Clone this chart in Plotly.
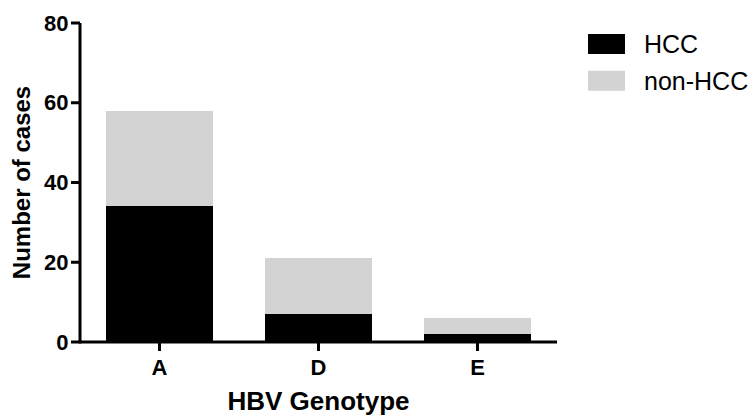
import plotly.graph_objects as go

# Case counts by HBV genotype
genotypes = ["A", "D", "E"]
hcc = [34, 7, 2]
non_hcc = [24, 14, 4]
y_ticks = [0, 20, 40, 60, 80]
y_range = [0, 80]

series_names = ["HCC", "non-HCC"]
series_colors = ["#000000", "#d3d3d3"]

FONT = "Arial, 'Liberation Sans', sans-serif"
AXIS_W = 3      # axis line thickness, px
TICK_LEN = 9    # tick length, px

fig = go.Figure()
for name, vals, col in zip(series_names, [hcc, non_hcc], series_colors):
    fig.add_trace(go.Bar(
        x=genotypes, y=vals, name=name,
        marker=dict(color=col, line=dict(width=0)),
        showlegend=False,
    ))

shapes = []
half = AXIS_W / 2

# Axis lines as solid bars hugging the left and bottom edges of the plot area
shapes.append(dict(type="rect", xref="paper", xsizemode="pixel", xanchor=0,
                   x0=-half, x1=half, yref="paper", y0=0, y1=1,
                   fillcolor="black", line=dict(width=0)))
shapes.append(dict(type="rect", yref="paper", ysizemode="pixel", yanchor=0,
                   y0=-half, y1=half, xref="paper", x0=0, x1=1,
                   fillcolor="black", line=dict(width=0)))
shapes.append(dict(type="rect", xref="paper", xsizemode="pixel", xanchor=0,
                   x0=-half, x1=half, yref="paper", ysizemode="pixel", yanchor=0,
                   y0=-half, y1=half, fillcolor="black", line=dict(width=0)))

# Category ticks below the x axis
for g in genotypes:
    shapes.append(dict(type="rect", xref="x", xsizemode="pixel", xanchor=g,
                       x0=-half, x1=half, yref="paper", ysizemode="pixel", yanchor=0,
                       y0=0, y1=-TICK_LEN, fillcolor="black", line=dict(width=0)))

# Value ticks left of the y axis
for v in y_ticks:
    frac = (v - y_range[0]) / (y_range[1] - y_range[0])
    shapes.append(dict(type="rect", yref="y domain", ysizemode="pixel", yanchor=frac,
                       y0=-half, y1=half, xref="paper", xsizemode="pixel", xanchor=0,
                       x0=-TICK_LEN, x1=0, fillcolor="black", line=dict(width=0)))

# Legend: wide swatches with labels to the right of the plot
PW, PH = 477, 319
annots = []
for i, (name, col) in enumerate(zip(series_names, series_colors)):
    top = 34 + i * 36.7
    shapes.append(dict(
        type="rect", xref="paper", yref="paper",
        x0=(588 - 80) / PW, x1=(625 - 80) / PW,
        y0=1 - (top + 20 - 23) / PH, y1=1 - (top - 23) / PH,
        fillcolor=col, line=dict(width=0),
    ))
    annots.append(dict(
        text=name, xref="paper", yref="paper",
        x=(642 - 80) / PW, y=1 - (top + 10 - 23) / PH,
        xanchor="left", yanchor="middle", showarrow=False,
        font=dict(family=FONT, size=25, color="#000000"),
    ))

fig.update_layout(
    width=752, height=416,
    margin=dict(l=80, r=195, t=23, b=74),
    paper_bgcolor="white", plot_bgcolor="white",
    barmode="stack", bargap=0.325,
    font=dict(family=FONT, color="#000000"),
    shapes=shapes,
    annotations=annots,
    xaxis=dict(
        range=[-0.5, 2.5], automargin=False,
        tickvals=genotypes, ticktext=[f"<b>{g}</b>" for g in genotypes],
        showline=False,
        ticks="outside", ticklen=6, tickcolor="rgba(0,0,0,0)",
        tickfont=dict(family=FONT, size=22, color="#000000"),
        showgrid=False, zeroline=False,
        title=dict(text="<b>HBV Genotype</b>", standoff=18,
                   font=dict(family=FONT, size=26, color="#000000")),
    ),
    yaxis=dict(
        range=y_range, tickvals=y_ticks, automargin=False,
        ticktext=[f"<b>{v}</b>" for v in y_ticks],
        showline=False,
        ticks="outside", ticklen=6, tickcolor="rgba(0,0,0,0)",
        tickfont=dict(family=FONT, size=22, color="#000000"),
        showgrid=False, zeroline=False,
        title=dict(text="<b>Number of cases</b>", standoff=6,
                   font=dict(family=FONT, size=24, color="#000000")),
    ),
)

fig.write_html("out.html")
